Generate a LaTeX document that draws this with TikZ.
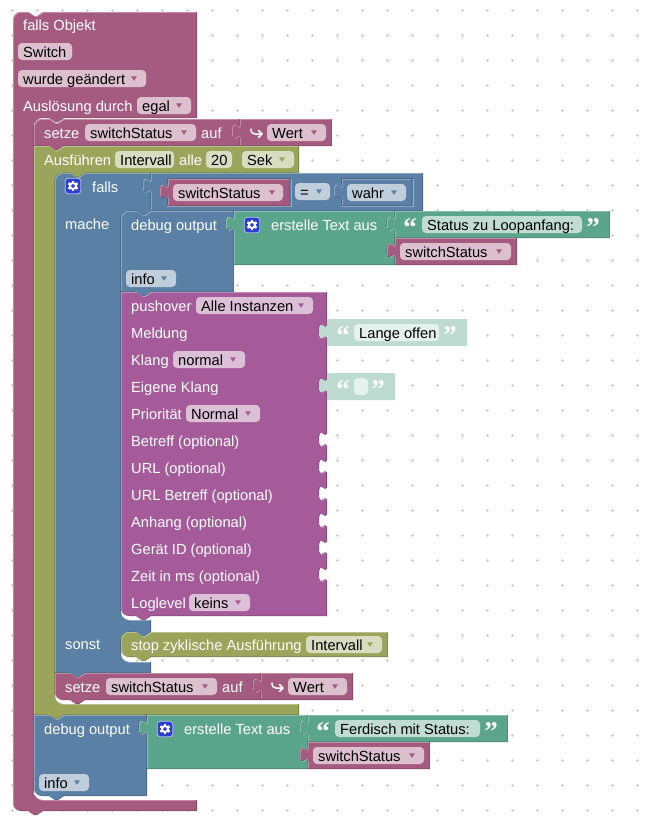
\documentclass[tikz,border=0pt]{standalone}
\usepackage{fontspec}
\setmainfont{Liberation Sans}
\newfontfamily\quotefont{Liberation Serif}
\definecolor{pnk}{HTML}{A55B80}
\definecolor{olv}{HTML}{9AA55B}
\definecolor{blu}{HTML}{5B80A5}
\definecolor{grn}{HTML}{5BA58C}
\definecolor{pur}{HTML}{A55B99}
\definecolor{gearblue}{HTML}{2B3FD2}
\def\cTL{.. controls +(0,-4.4) and +(-4.4,0) .. ++(8,-8)}
\def\cBL{.. controls +(-4.4,0) and +(0,4.4) .. ++(-8,-8)}
\def\iTop{.. controls +(-4.4,0) and +(0,-4.4) .. ++(-8,8)}
\def\iBot{.. controls +(0,4.4) and +(-4.4,0) .. ++(8,8)}
\def\nR{-- ++(6,4) -- ++(3,0) -- ++(6,-4)}
\def\tL{-- ++(-6,4) -- ++(-3,0) -- ++(-6,-4)}
\def\sR{.. controls +(0,10) and +(0,-15.5) .. ++(-8,7.5) .. controls +(0,15.5) and +(0,-10) .. ++(8,7.5)}
\def\tU{.. controls +(0,-10) and +(0,15.5) .. ++(-8,-7.5) .. controls +(0,-15.5) and +(0,10) .. ++(8,-7.5)}
\newcommand\blk[2]{%
  \begin{scope}
    \clip #2;
    \fill[#1!80!black] #2;
    \begin{scope}[shift={(-.8,-.8)}]
      \clip #2;
      \fill[#1!65!white] #2;
      \begin{scope}[shift={(1.6,1.6)}]
        \clip #2;
        \fill[#1] #2;
      \end{scope}
    \end{scope}
  \end{scope}}
\newcommand\lbl[4]{\node[lbl] (#1) at (#2,#3) {#4};}
\newcommand\fldbox[4]{\fill[white,fill opacity=.62,rounded corners=4pt] (#1,#3) rectangle (#2,#3+#4);}
\newcommand\fld[7]{%
  \fldbox{#2}{#3}{#4}{17}
  \node[fldtext] (#1) at (#2+5,#4+14.2) {#5};
  \fill[#6] (#7-2.9,#4+6.4) -- (#7+2.9,#4+6.4) -- (#7,#4+10.8) -- cycle;}
\newcommand\fldn[5]{%
  \fldbox{#2}{#3}{#4}{17}
  \node[fldtext] (#1) at (#2+5,#4+14.2) {#5};}
\newcommand\gear[3]{%
  \node[gearbox] (#1) at (#2,#3) {};
  \draw[white,line width=2pt] (#2,#3) circle[radius=3pt];
  \foreach \ga in {30,90,...,330}{\draw[white,line width=2.4pt] (#2,#3) ++(\ga:3) -- ++(\ga:2.3);}
}
\newcommand\hook[2]{%
  \draw[white,line width=1.5pt,line cap=round,line join=round]
    (#1,#2-5) .. controls (#1,#2-1.5) and (#1+1.5,#2) .. (#1+4,#2) -- (#1+11,#2)
    (#1+7.5,#2-3.5) -- (#1+11,#2) -- (#1+7.5,#2+3.5);}
\newcommand\qq[3]{\node[qmark,text=#3] (#1) at (#2) {\quotefont\bfseries “};}
\newcommand\qc[3]{\node[qmark,text=#3] (#1) at (#2) {\quotefont\bfseries ”};}
\tikzset{
  lbl/.style={anchor=base west,inner sep=0pt,text=white,font=\fontsize{14.67}{17}\selectfont},
  fldtext/.style={anchor=base west,inner sep=0pt,text=black,font=\fontsize{14.67}{17}\selectfont},
  qmark/.style={anchor=base,inner sep=0pt,yshift=-2pt,font=\fontsize{27}{29}\selectfont},
  gearbox/.style={draw=white!65!gearblue,line width=.8pt,fill=gearblue,rounded corners=3pt,minimum width=15.5pt,minimum height=15.5pt,inner sep=0pt}
}
\begin{document}
\begin{tikzpicture}[x=1pt,y=-1pt]
\useasboundingbox (0,0) rectangle (645,819);
\fill[white] (0,0) rectangle (645,819);
% workspace grid
\foreach \gx in {12,37,...,637}{\foreach \gy in {10,35,...,810}{
  \fill[black!20] (\gx-1.5,\gy-.5) rectangle (\gx+1.5,\gy+.5);
  \fill[black!20] (\gx-.5,\gy-1.5) rectangle (\gx+.5,\gy+1.5);}}
% event block
\blk{pnk}{(13,20) \cTL -- (28,12) \nR -- (197,12) -- (197,118) -- (64,118) \tL -- (42,118) \iTop -- (34,792) \iBot -- (197,800) -- (197,811) -- (43,811) \tL -- (21,811) \cBL -- cycle}
\lbl{t1}{23}{30}{falls Objekt}
\fldn{f1}{18}{72}{43}{Switch}
\fld{f2}{18}{146}{70}{wurde geändert}{pnk}{134}
\lbl{t2}{23}{111}{Auslösung durch}
\fld{f3}{137}{191}{97}{egal}{pnk}{179}
% setze 1
\blk{pnk}{(34,127) \cTL -- (49,119) \nR -- (240,119) -- (240,124) \sR -- (240,146) -- (64,146) \tL -- (34,146) -- cycle}
\lbl{t3}{44}{138}{setze}
\fld{f4}{85}{196}{124}{switchStatus}{pnk}{184}
\lbl{t4}{201}{138}{auf}
\blk{pnk}{(240,119) -- (332,119) -- (332,146) -- (240,146) -- (240,139) \tU -- cycle}
\hook{251}{134}
\fld{f5}{267}{326}{124}{Wert}{pnk}{314}
% Ausfuehren
\blk{olv}{(34,146) -- (49,146) \nR -- (299,146) -- (299,173) -- (85,173) \tL -- (63,173) \iTop -- (55,696) \iBot -- (299,704) -- (299,715) -- (64,715) \tL -- (34,715) -- cycle}
\lbl{t5}{44}{165}{Ausführen}
\fldn{f6}{115}{174}{151}{Intervall}
\lbl{t6}{179}{165}{alle}
\fldn{f7}{206}{232}{151}{20}
\fld{f8}{242}{294}{151}{Sek}{olv}{282}
% falls
\blk{blu}{(55,181) \cTL -- (70,173) \nR -- (151,173) -- (151,178) \sR -- (151,211) \tL -- (129,211) \iTop -- (121,612) \iBot -- (151,620) -- (151,632) \tL -- (129,632) \iTop -- (121,654) \iBot -- (151,662) -- (151,673) -- (85,673) \tL -- (55,673) -- cycle}
\gear{g1}{73}{186}
\lbl{t7}{92}{192}{falls}
\lbl{t8}{65}{229}{mache}
\lbl{t9}{65}{649}{sonst}
% compare
\blk{blu}{(151,173) -- (423,173) -- (423,211) -- (151,211) -- (151,193) \tU -- cycle}
\draw[blu!80!black,line width=.8pt] (167,206.5) -- (167,178.5) -- (291,178.5);
\draw[blu!65!white,line width=.8pt] (291,178.5) -- (291,206.5) -- (167,206.5);
\draw[blu!80!black,line width=.8pt] (341,206.5) -- (341,178.5) -- (413,178.5);
\draw[blu!65!white,line width=.8pt] (413,178.5) -- (413,206.5) -- (341,206.5);
\blk{pnk}{(168,179) -- (290,179) -- (290,206) -- (168,206) -- (168,199) \tU -- cycle}
\fld{f9}{173}{283}{184}{switchStatus}{pnk}{272}
\fldn{f10}{295}{330}{183}{=}
\fill[blu] (316.1,189.4) -- (321.9,189.4) -- (319,193.8) -- cycle;
\blk{blu}{(342,179) -- (412,179) -- (412,206) -- (342,206) -- (342,199) \tU -- cycle}
\fld{f11}{347}{406}{184}{wahr}{blu}{394}
% debug output 1
\blk{blu}{(121,219) \cTL -- (136,211) \nR -- (234,211) -- (234,216) \sR -- (234,292) -- (151,292) \tL -- (121,292) -- cycle}
\lbl{t10}{131}{230}{debug output}
\fld{f12}{126}{176}{270}{info}{blu}{164}
% join 1
\blk{grn}{(234,211) -- (395,211) -- (395,216) \sR -- (395,243) \sR -- (395,265) -- (234,265) -- (234,231) \tU -- cycle}
\gear{g2}{252}{225}
\lbl{t11}{271}{230}{erstelle Text aus}
\blk{grn}{(395,211) -- (610,211) -- (610,238) -- (395,238) -- (395,231) \tU -- cycle}
\qq{q1}{410,234}{white}
\fldn{f13}{422}{582}{216}{Status zu Loopanfang:}
\qc{q2}{593,234}{white}
\blk{pnk}{(395,238) -- (517,238) -- (517,265) -- (395,265) -- (395,258) \tU -- cycle}
\fld{f14}{400}{511}{243}{switchStatus}{pnk}{499}
% pushover
\blk{pur}{(121,292) -- (136,292) \nR -- (327,292) -- (327,324) \sR -- (327,378) \sR -- (327,432) \sR -- (327,459) \sR -- (327,486) \sR -- (327,513) \sR -- (327,540) \sR -- (327,567) \sR -- (327,616) -- (151,616) \tL -- (129,616) \cBL -- cycle}
\lbl{p1}{131}{311}{pushover}
\fld{p1f}{196}{313}{297}{Alle Instanzen}{pur}{301}
\lbl{p2}{131}{338}{Meldung}
\lbl{p3}{131}{365}{Klang}
\fld{p3f}{173}{245}{351}{normal}{pur}{233}
\lbl{p4}{131}{392}{Eigene Klang}
\lbl{p5}{131}{419}{Priorität}
\fld{p5f}{186}{260}{405}{Normal}{pur}{248}
\lbl{p6}{131}{446}{Betreff (optional)}
\lbl{p7}{131}{473}{URL (optional)}
\lbl{p8}{131}{500}{URL Betreff (optional)}
\lbl{p9}{131}{527}{Anhang (optional)}
\lbl{p10}{131}{554}{Gerät ID (optional)}
\lbl{p11}{131}{581}{Zeit in ms (optional)}
\lbl{p12}{131}{608}{Loglevel}
\fld{p12f}{189}{250}{594}{keins}{pur}{238}
% faded text blocks
\fill[grn!40!white] (327,319) -- (467,319) -- (467,346) -- (327,346) -- (327,339) \tU -- cycle;
\qq{q3}{343,342}{white}
\fldn{f15}{354}{439}{324}{Lange offen}
\qc{q4}{450,342}{white}
\fill[grn!40!white] (327,373) -- (395,373) -- (395,400) -- (327,400) -- (327,393) \tU -- cycle;
\qq{q5}{343,396}{white}
\fldbox{354}{368}{378}{17}
\qc{q6}{378,396}{white}
% stop
\blk{olv}{(121,640) \cTL -- (136,632) \nR -- (388,632) -- (388,657) -- (151,657) \tL -- (129,657) \cBL -- cycle}
\lbl{t12}{131}{650}{stop zyklische Ausführung}
\fld{f16}{306}{382}{636}{Intervall}{olv}{370}
% setze 2
\blk{pnk}{(55,673) -- (70,673) \nR -- (261,673) -- (261,678) \sR -- (261,700) -- (85,700) \tL -- (63,700) \cBL -- cycle}
\lbl{t13}{65}{692}{setze}
\fld{f17}{106}{217}{678}{switchStatus}{pnk}{205}
\lbl{t14}{222}{692}{auf}
\blk{pnk}{(261,673) -- (353,673) -- (353,700) -- (261,700) -- (261,693) \tU -- cycle}
\hook{272}{688}
\fld{f18}{288}{347}{678}{Wert}{pnk}{335}
% debug output 2
\blk{blu}{(34,715) -- (49,715) \nR -- (147,715) -- (147,720) \sR -- (147,796) -- (64,796) \tL -- (42,796) \cBL -- cycle}
\lbl{t15}{44}{734}{debug output}
\fld{f19}{39}{89}{774}{info}{blu}{77}
% join 2
\blk{grn}{(147,715) -- (308,715) -- (308,720) \sR -- (308,747) \sR -- (308,769) -- (147,769) -- (147,735) \tU -- cycle}
\gear{g3}{165}{729}
\lbl{t16}{184}{734}{erstelle Text aus}
\blk{grn}{(308,715) -- (508,715) -- (508,742) -- (308,742) -- (308,735) \tU -- cycle}
\qq{q7}{323,738}{white}
\fldn{f20}{335}{480}{720}{Ferdisch mit Status:}
\qc{q8}{491,738}{white}
\blk{pnk}{(308,742) -- (430,742) -- (430,769) -- (308,769) -- (308,762) \tU -- cycle}
\fld{f21}{313}{424}{747}{switchStatus}{pnk}{412}
\end{tikzpicture}
\end{document}
